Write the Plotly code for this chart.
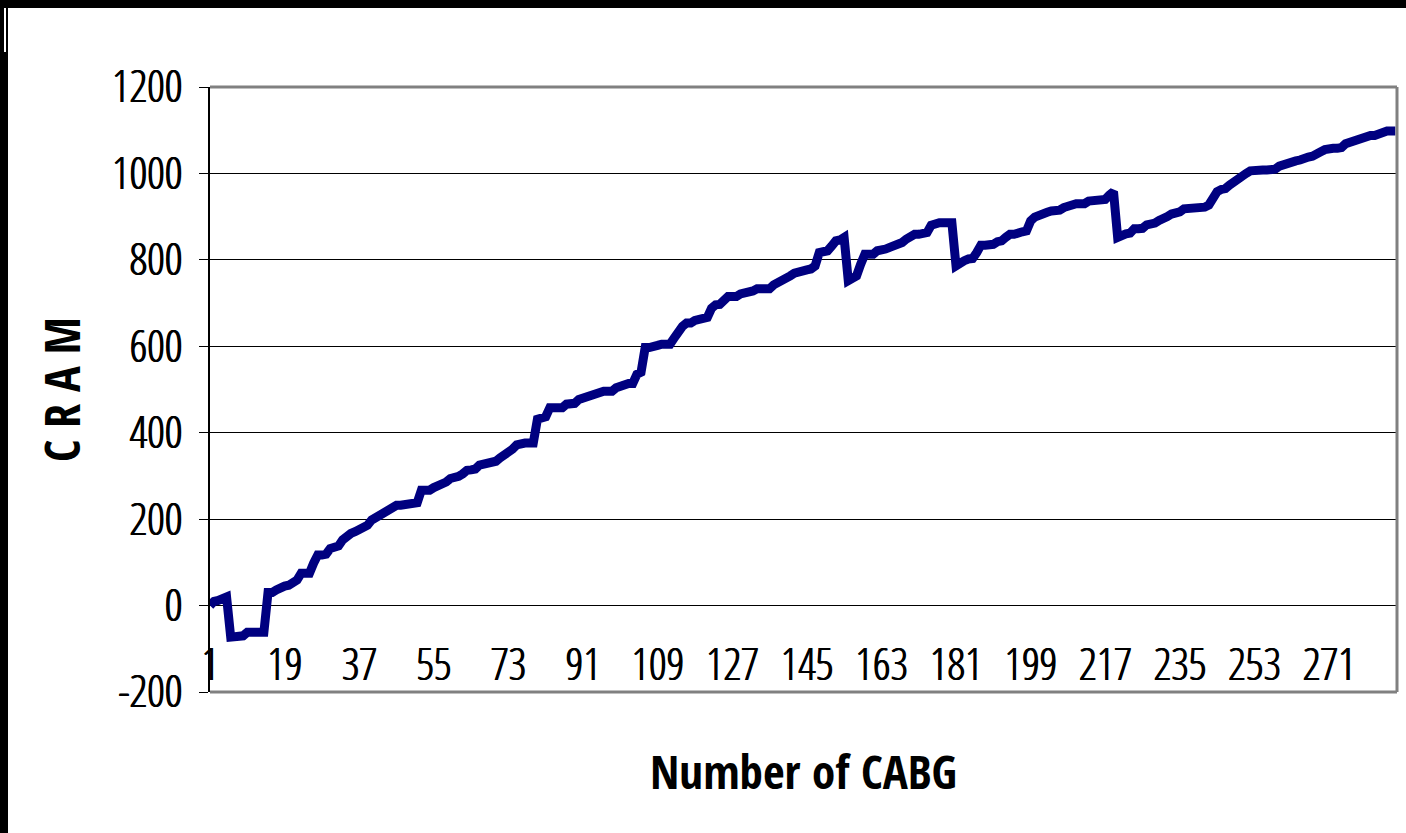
import plotly.graph_objects as go

# ---------------- data ----------------
cases = list(range(1, 288))
cram = [
    0, 10, 12, 14, 20, -73, -73, -73, -70, -62,
    -62, -62, -62, -62, 30, 30, 36, 42, 45, 47,
    53, 59, 75, 75, 75, 98, 117, 117, 119, 132,
    136, 138, 152, 161, 167, 171, 175, 178, 186, 198,
    204, 209, 215, 221, 228, 232, 232, 234, 238, 238,
    238, 267, 267, 267, 273, 276, 279, 286, 294, 294,
    299, 305, 313, 314, 316, 325, 327, 327, 328, 334,
    342, 347, 356, 362, 372, 376, 376, 376, 376, 431,
    435, 437, 458, 458, 458, 458, 466, 468, 468, 477,
    481, 481, 485, 492, 492, 496, 496, 496, 504, 508,
    514, 514, 514, 535, 540, 597, 597, 597, 602, 605,
    605, 605, 619, 635, 646, 654, 654, 660, 664, 665,
    667, 688, 696, 697, 708, 715, 715, 715, 721, 723,
    723, 728, 733, 733, 733, 733, 742, 746, 750, 759,
    763, 769, 773, 775, 777, 779, 786, 817, 821, 821,
    832, 844, 846, 852, 752, 759, 763, 790, 813, 813,
    813, 821, 821, 825, 829, 831, 836, 840, 848, 857,
    859, 859, 859, 863, 880, 886, 886, 886, 886, 886,
    786, 794, 798, 802, 803, 817, 834, 834, 834, 836,
    842, 844, 852, 859, 859, 865, 865, 867, 890, 899,
    901, 905, 910, 913, 913, 915, 921, 925, 930, 930,
    930, 930, 936, 938, 938, 938, 940, 950, 958, 852,
    858, 860, 862, 872, 872, 873, 881, 881, 885, 891,
    894, 900, 906, 908, 911, 918, 918, 918, 918, 918,
    922, 927, 946, 958, 963, 965, 973, 981, 988, 992,
    1000, 1006, 1008, 1008, 1008, 1008, 1008, 1010, 1017, 1021,
    1021, 1027, 1029, 1031, 1036, 1038, 1040, 1048, 1050, 1055,
    1058, 1058, 1058, 1060, 1069, 1073, 1073, 1077, 1083, 1088,
    1088, 1088, 1091, 1098, 1098, 1098, 1098,
]
x_tick_values = [1, 19, 37, 55, 73, 91, 109, 127, 145, 163, 181, 199, 217, 235, 253, 271]
x_tick_labels = [str(v) for v in x_tick_values]
y_tick_values = [-200, 0, 200, 400, 600, 800, 1000, 1200]
y_tick_labels = [str(v) for v in y_tick_values]

x_title = "Number of CABG"
y_title = "C R A M"

# ---------------- layout geometry ----------------
W, H = 1406, 833
L, R, T, B = 210, 9, 87, 141
PW, PH = W - L - R, H - T - B

TICK_FONT = "Open Sans Condensed Light, DejaVu Sans Condensed, sans-serif"
TITLE_FONT = "Open Sans Condensed, DejaVu Sans Condensed, sans-serif"
TICK_SHADOW = "0.8px 0px 0px black, -0.3px 0px 0px black"


def px(p):
    return (p - L) / PW


def py(p):
    return (H - B - p) / PH


fig = go.Figure(
    go.Scatter(
        x=cases,
        y=cram,
        mode="lines",
        line=dict(color="#000080", width=9),
        hoverinfo="x+y",
        showlegend=False,
    )
)

shapes = [
    # gray plot-area frame (top, right, bottom)
    dict(type="line", xref="paper", yref="paper", x0=0, x1=1, y0=1, y1=1,
         line=dict(color="#808080", width=3)),
    dict(type="line", xref="paper", yref="paper", x0=1, x1=1, y0=0, y1=1,
         line=dict(color="#808080", width=3)),
    dict(type="line", xref="paper", yref="paper", x0=0, x1=1, y0=0, y1=0,
         line=dict(color="#808080", width=3)),
    # black picture border along the top and the left
    dict(type="rect", xref="paper", yref="paper", x0=px(0), x1=px(W), y0=py(8), y1=py(0),
         fillcolor="black", line=dict(width=0), layer="above"),
    dict(type="rect", xref="paper", yref="paper", x0=px(0), x1=px(8), y0=py(H), y1=py(0),
         fillcolor="black", line=dict(width=0), layer="above"),
    dict(type="line", xref="paper", yref="paper", x0=px(5), x1=px(5), y0=py(52), y1=py(8),
         line=dict(color="white", width=2), layer="above"),
]

fig.update_layout(
    width=W,
    height=H,
    autosize=False,
    margin=dict(l=L, r=R, t=T, b=B, pad=0),
    paper_bgcolor="white",
    plot_bgcolor="white",
    font=dict(family=TICK_FONT, color="black", size=42),
    shapes=shapes,
    showlegend=False,
    xaxis=dict(
        range=[1, 287.4],
        tickmode="array",
        tickvals=x_tick_values,
        ticktext=x_tick_labels,
        ticks="",
        showgrid=False,
        zeroline=False,
        showline=False,
        ticklabelposition="inside",
        ticklabeloverflow="allow",
        ticklabelstandoff=0,
        tickfont=dict(family=TICK_FONT, size=44, color="black", shadow=TICK_SHADOW),
        title=dict(text=x_title, standoff=63,
                   font=dict(family=TITLE_FONT, size=47, color="black", weight="bold")),
    ),
    yaxis=dict(
        range=[-200, 1200],
        tickmode="array",
        tickvals=y_tick_values,
        ticktext=y_tick_labels,
        ticks="outside",
        ticklen=9,
        tickwidth=1,
        tickcolor="black",
        showgrid=True,
        gridcolor="black",
        gridwidth=1,
        zeroline=False,
        showline=True,
        linecolor="black",
        linewidth=2,
        ticklabelstandoff=8,
        tickfont=dict(family=TICK_FONT, size=44, color="black", shadow=TICK_SHADOW),
        title=dict(text=y_title, standoff=16,
                   font=dict(family=TITLE_FONT, size=48, color="black", weight="bold")),
    ),
)

fig.write_html("out.html", config={"displayModeBar": False},
               post_script="document.body.style.margin='0px';")
